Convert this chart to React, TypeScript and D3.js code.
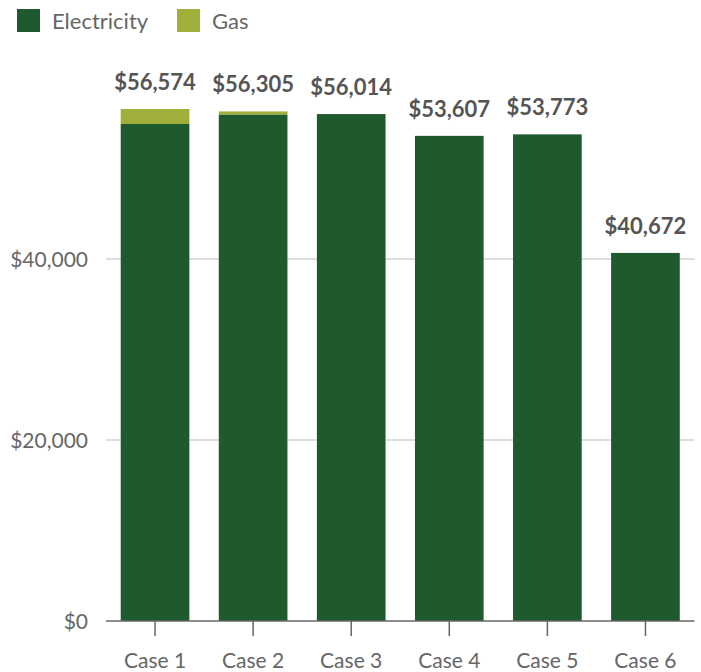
import React from "react";
import * as d3 from "d3";

const categories = ["Case 1", "Case 2", "Case 3", "Case 4", "Case 5", "Case 6"];
const electricity = [54917, 55974, 56014, 53607, 53773, 40672];
const gas = [1657, 331, 0, 0, 0, 0];
const totals = [56574, 56305, 56014, 53607, 53773, 40672];
const yTicks = [0, 20000, 40000];
const seriesNames = ["Electricity", "Gas"];
const seriesColors = ["#1f5a2e", "#9faf3a"];

const W = 701;
const H = 672;
const FONT = "Lato, 'Source Sans Pro', 'Noto Sans', sans-serif";

export default function App() {
  const x = d3.scaleBand<string>().domain(categories).range([106, 694.5]).paddingInner(0.3).paddingOuter(0.15);
  const y = d3.scaleLinear().domain([0, 60000]).range([621, 78]);
  const fmt = d3.format("$,");
  const stack = categories.map((c, i) => ({ c, e: electricity[i], g: gas[i], t: totals[i] }));

  return (
    <svg width={W} height={H} style={{ position: "absolute", left: 0, top: 0 }} fontFamily={FONT}>
      {/* legend */}
      {seriesNames.map((n, i) => {
        const lx = i === 0 ? 17 : 177;
        return (
          <g key={n}>
            <rect x={lx} y={9} width={23} height={23} fill={seriesColors[i]} />
            <text x={lx + 35} y={29} fontSize={22} fill="#666">{n}</text>
          </g>
        );
      })}
      {/* gridlines */}
      {yTicks.filter((t) => t > 0).map((t) => (
        <line key={t} x1={106} x2={694.5} y1={y(t)} y2={y(t)} stroke="#bdbdbd" strokeWidth={1.2} />
      ))}
      {/* y tick labels */}
      {yTicks.map((t) => (
        <text key={t} x={88} y={y(t) + 7.5} textAnchor="end" fontSize={21} fill="#666">{fmt(t)}</text>
      ))}
      {/* bars */}
      {stack.map((d) => (
        <g key={d.c}>
          <rect x={x(d.c)} y={y(d.e)} width={x.bandwidth()} height={y(0) - y(d.e)} fill={seriesColors[0]} />
          {d.g > 0 && (
            <rect x={x(d.c)} y={y(d.e + d.g)} width={x.bandwidth()} height={y(d.e) - y(d.e + d.g)} fill={seriesColors[1]} />
          )}
          <text x={(x(d.c) as number) + x.bandwidth() / 2} y={y(d.t) - 19} textAnchor="middle" fontSize={22} fontWeight="bold" fill="#555">
            {fmt(d.t)}
          </text>
        </g>
      ))}
      {/* x axis */}
      <line x1={106} x2={694.5} y1={y(0)} y2={y(0)} stroke="#666" strokeWidth={1.5} />
      {categories.map((c) => {
        const cx = (x(c) as number) + x.bandwidth() / 2;
        return (
          <g key={c}>
            <line x1={cx} x2={cx} y1={y(0)} y2={y(0) + 15} stroke="#666" strokeWidth={1.5} />
            <text x={cx} y={668} textAnchor="middle" fontSize={21} fill="#666">{c}</text>
          </g>
        );
      })}
    </svg>
  );
}
